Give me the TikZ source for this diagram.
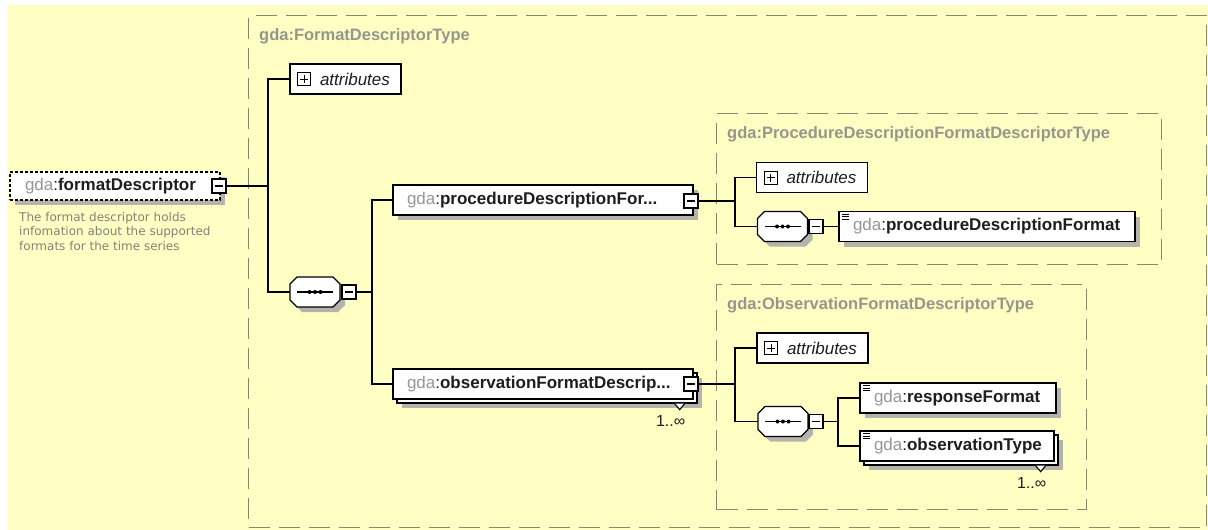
\documentclass[tikz,border=0pt]{standalone}
\usepackage{fontspec}
\setmainfont{Liberation Sans}
\newfontfamily\descfont{DejaVu Sans}
\usetikzlibrary{shadows}
\definecolor{bgyellow}{RGB}{255,255,196}
\definecolor{dashcol}{RGB}{135,135,105}
\definecolor{typegray}{RGB}{150,150,140}
\definecolor{gdagray}{RGB}{150,150,150}
\definecolor{namecol}{RGB}{30,30,30}
\definecolor{shadowcol}{RGB}{180,180,172}
\definecolor{desccol}{RGB}{130,130,120}
\newcommand\gdapre{{\mdseries{\color{gdagray}gda}:}}
\newcommand\namefont{\fontsize{17}{19}\selectfont}
\newcommand\typefont{\fontsize{16.5}{19}\selectfont}
\newcommand\seqbody[1]{%
  \begin{scope}[shift={(#1.center)}]
    \fill[shadowcol] (-13,-10) -- (23,-10) -- (30,-3) -- (30,13) -- (23,20) -- (-13,20) -- (-20,13) -- (-20,-3) -- cycle;
    \draw[line width=1.3pt, fill=white] (-18,-15) -- (18,-15) -- (25,-8) -- (25,8) -- (18,15) -- (-18,15) -- (-25,8) -- (-25,-8) -- cycle;
    \draw[line width=1.3pt] (-18,0) -- (18,0);
    \fill (-5.5,0) circle (2) (0,0) circle (2) (5.5,0) circle (2);
  \end{scope}}
\begin{document}
\begin{tikzpicture}[x=1pt,y=-1pt,
  conn/.style={draw=black, line width=1.3pt},
  typebox/.style={draw=dashcol, line width=1.2pt, dash pattern=on 21pt off 9pt, anchor=north west, inner sep=0pt},
  typelabel/.style={text=typegray, font=\typefont\bfseries, anchor=west, inner sep=0pt},
  elembase/.style={draw=black, fill=white, line width=1.3pt, minimum height=30pt, inner xsep=14pt, inner ysep=0pt, align=left, font=\namefont\bfseries, text=namecol},
  single/.style={elembase, text width=#1, drop shadow={shadow xshift=5pt, shadow yshift=-5pt, fill=shadowcol, opacity=1}},
  multi/.style={elembase, text width=#1, drop shadow={shadow xshift=9pt, shadow yshift=-9pt, fill=shadowcol, opacity=1}, copy shadow={shadow xshift=4pt, shadow yshift=-4pt, draw=black, fill=white, line width=1.3pt}},
  fdbox/.style={draw=black, dash pattern=on 3pt off 2pt, fill=white, line width=1.2pt, minimum height=28pt, inner xsep=15pt, inner ysep=0pt, text width=180pt, align=left, font=\namefont\bfseries, text=namecol, drop shadow={shadow xshift=5pt, shadow yshift=-5pt, fill=shadowcol, opacity=1}},
  attr/.style={draw=black, fill=white, line width=1.3pt, minimum height=30pt, inner xsep=14pt, inner ysep=0pt, text width=83pt, align=left, font=\namefont\itshape, text=namecol},
  minusbox/.style={draw=black, fill=white, line width=1.1pt, minimum width=14pt, minimum height=14pt, inner sep=0pt,
    path picture={\draw[line width=1.1pt] ([xshift=3pt]path picture bounding box.west) -- ([xshift=-3pt]path picture bounding box.east);}},
  plusbox/.style={draw=black, fill=white, line width=1pt, minimum width=13pt, minimum height=13pt, inner sep=0pt,
    path picture={\draw[line width=1pt] ([xshift=2.5pt]path picture bounding box.west) -- ([xshift=-2.5pt]path picture bounding box.east)
      ([yshift=-2.5pt]path picture bounding box.north) -- ([yshift=2.5pt]path picture bounding box.south);}},
  icon/.style={path picture={\draw[line width=0.9pt]
      ([xshift=3pt,yshift=-2.5pt]path picture bounding box.north west) -- ++(7pt,0pt)
      ([xshift=3pt,yshift=-5pt]path picture bounding box.north west) -- ++(7pt,0pt)
      ([xshift=3pt,yshift=-7.5pt]path picture bounding box.north west) -- ++(7pt,0pt);}},
  seqnode/.style={minimum width=50pt, minimum height=30pt, inner sep=0pt},
  desc/.style={anchor=north west, inner sep=0pt, align=left, font=\descfont\fontsize{12}{14.5}\selectfont, text=desccol},
  multlabel/.style={inner sep=0pt, font=\fontsize{16}{18}\selectfont, text=namecol},
  notch/.style={line width=1.1pt, fill=white}
]
\useasboundingbox (0,0) rectangle (1208,530);
\fill[white] (0,0) rectangle (1208,530);
\fill[bgyellow] (7,5) rectangle (1208,530);

% type boxes
\node[typebox, minimum width=958pt, minimum height=512pt] (fdtype) at (248,15) {};
\node[typelabel] (fdtypel) at (259,36) {gda:FormatDescriptorType};
\node[typebox, minimum width=445pt, minimum height=151pt] (ptype) at (716,113) {};
\node[typelabel] (ptypel) at (727,134) {gda:ProcedureDescriptionFormatDescriptorType};
\node[typebox, minimum width=370pt, minimum height=225pt] (otype) at (716,284) {};
\node[typelabel] (otypel) at (727,305) {gda:ObservationFormatDescriptorType};

% root element
\node[fdbox] (fd) at (115,186) {\gdapre formatDescriptor};
\node[minusbox] (fdm) at (219,186) {};
\node[desc] (fddesc) at (19,212) {The format descriptor holds\\infomation about the supported\\formats for the time series};

% first level
\node[attr] (a1) at (345.5,79) {\hspace*{16pt}\mbox{attributes}};
\node[plusbox] (a1p) at ([xshift=15pt]a1.west) {};
\node[seqnode] (s1) at (315,292) {};
\seqbody{s1}
\node[minusbox] (s1m) at (349,292) {};

\node[single=272pt] (proc) at (543,200) {\gdapre procedureDescriptionFor...};
\node[minusbox] (procm) at (691,201) {};
\node[multi=272pt] (obs) at (543,384) {\gdapre observationFormatDescrip...};
\node[minusbox] (obsm) at (691,384) {};
\draw[notch] ([xshift=-19pt,yshift=-4pt]obs.south east) -- ++(5pt,-6pt) -- ++(5pt,6pt);
\node[multlabel] (obsmul) at ([xshift=-23pt,yshift=-21pt]obs.south east) {1..∞};

% procedure type content
\node[attr] (a2) at (812,177.5) {\hspace*{16pt}\mbox{attributes}};
\node[plusbox] (a2p) at ([xshift=15pt]a2.west) {};
\node[seqnode] (s2) at (782.5,226.5) {};
\seqbody{s2}
\node[minusbox] (s2m) at (816,226.5) {};
\node[single=268pt, icon] (pdf) at (987,226.5) {\gdapre procedureDescriptionFormat};

% observation type content
\node[attr] (a3) at (812.5,348) {\hspace*{16pt}\mbox{attributes}};
\node[plusbox] (a3p) at ([xshift=15pt]a3.west) {};
\node[seqnode] (s3) at (783,421.5) {};
\seqbody{s3}
\node[minusbox] (s3m) at (816,421.5) {};
\node[single=168pt, icon] (resp) at (958,398) {\gdapre responseFormat};
\node[multi=166pt, icon] (obsT) at (957,446) {\gdapre observationType};
\draw[notch] ([xshift=-19pt,yshift=-4pt]obsT.south east) -- ++(5pt,-6pt) -- ++(5pt,6pt);
\node[multlabel] (obsTmul) at ([xshift=-23pt,yshift=-21pt]obsT.south east) {1..∞};

% connectors
\coordinate (j1) at (268,186);
\draw[conn] (fdm.east) -- (fdm.east -| j1);
\draw[conn] (a1.west) -| (j1) |- (s1.west);
\coordinate (j2) at (372,292);
\draw[conn] (s1m.east) -- (s1m.east -| j2);
\draw[conn] (proc.west) -| (j2) |- (obs.west);
\coordinate (j3) at (735,201);
\draw[conn] (procm.east) -- (procm.east -| j3);
\draw[conn] (a2.west) -| (j3) |- (s2.west);
\draw[conn] (s2m.east) -- (pdf.west);
\coordinate (j4) at (735,384);
\draw[conn] (obsm.east) -- (obsm.east -| j4);
\draw[conn] (a3.west) -| (j4) |- (s3.west);
\coordinate (j5) at (838,421.5);
\draw[conn] (s3m.east) -- (s3m.east -| j5);
\draw[conn] (resp.west) -| (j5) |- (obsT.west);
\end{tikzpicture}
\end{document}
